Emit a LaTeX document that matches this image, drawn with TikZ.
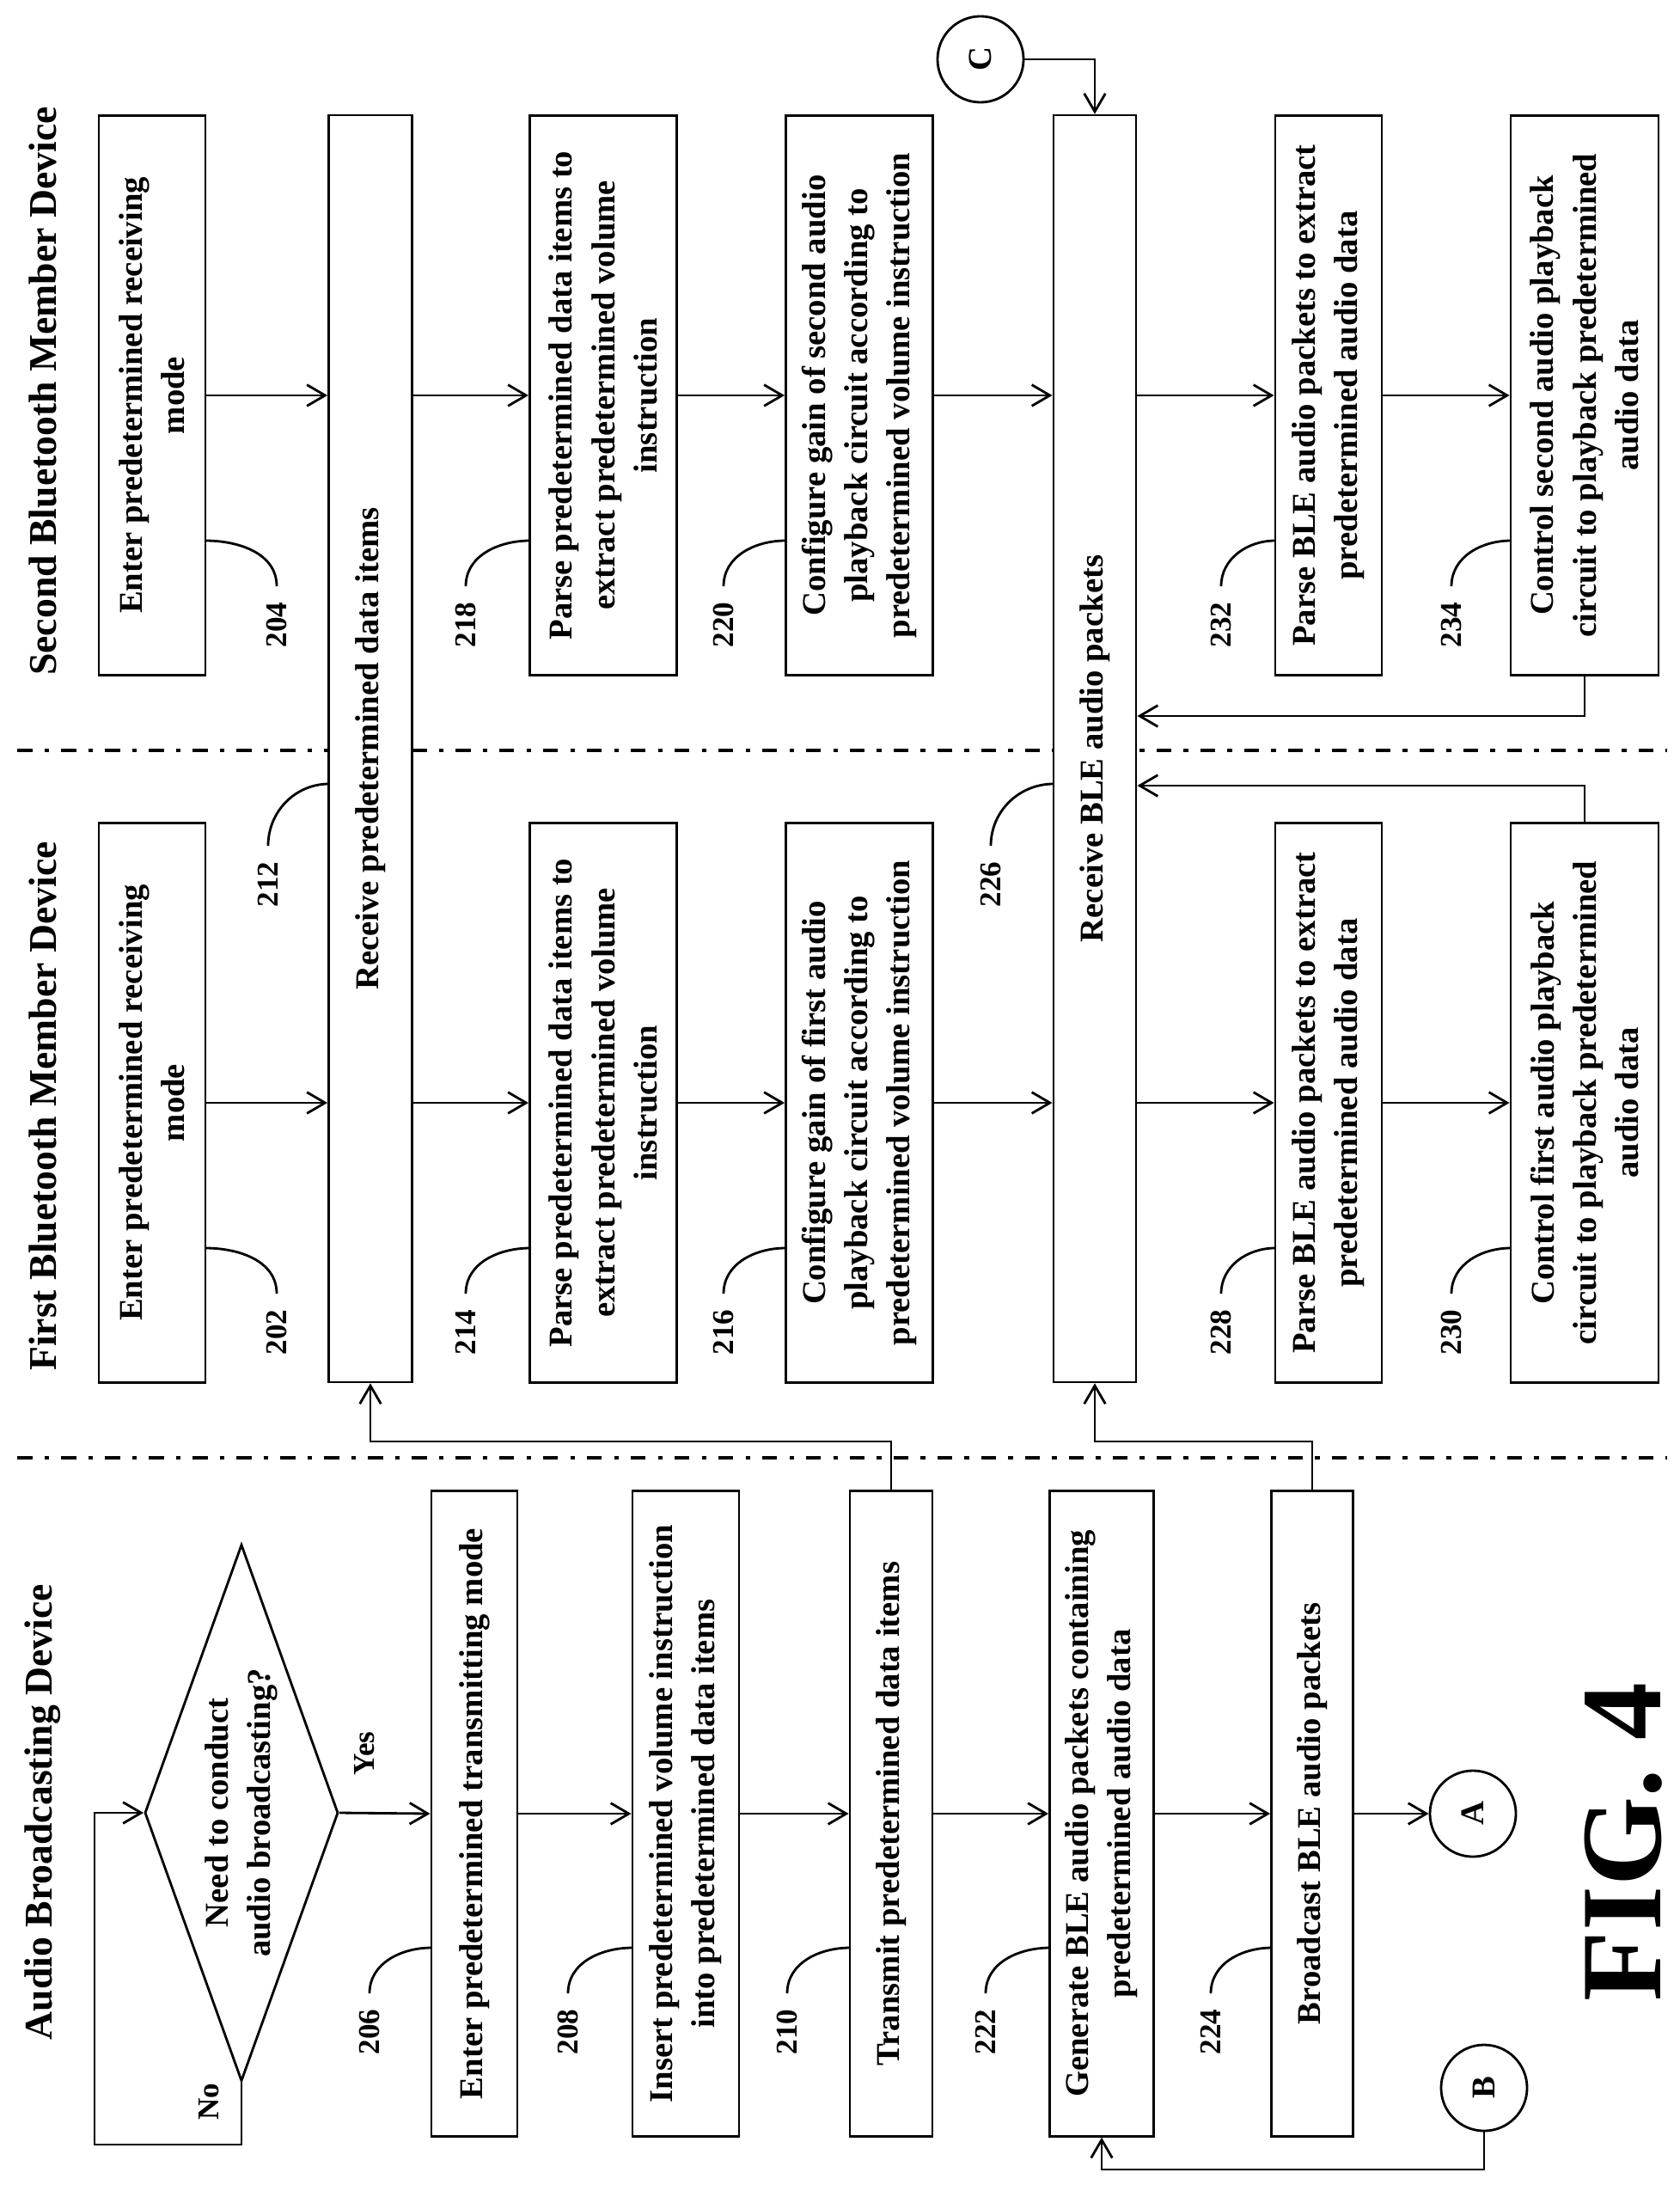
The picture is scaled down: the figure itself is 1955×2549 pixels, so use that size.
\documentclass[tikz,border=0pt]{standalone}
\usepackage{fontspec}
\setmainfont{Liberation Serif}
\usetikzlibrary{shapes.geometric,arrows.meta,calc}
\begin{document}
\begin{tikzpicture}[x=0.01cm,y=-0.01cm,
  every node/.style={font=\bfseries\fontsize{11}{14}\selectfont},
  box/.style={draw,line width=0.8pt,rotate=90,align=center,inner sep=2pt,fill=white},
  lbl/.style={rotate=90,font=\bfseries\fontsize{10}{12}\selectfont},
  ttl/.style={rotate=90,font=\bfseries\fontsize{13}{15}\selectfont},
  cc/.style={draw,circle,line width=0.8pt,minimum size=1cm,inner sep=0pt},
  ln/.style={line width=0.8pt},
  arr/.style={line width=0.8pt,-{Straight Barb[length=6pt,width=7pt]}},
  sep/.style={line width=1pt,dash pattern=on 5pt off 4pt on 1.5pt off 4pt}]
\useasboundingbox (0,0) rectangle (1955,2549);
% separators
\draw[sep] (20,873) -- (1940,873);
\draw[sep] (20,1696) -- (1940,1696);
% titles
\node[ttl] (t1) at (50,2108) {Audio Broadcasting Device};
\node[ttl] (t2) at (50,1287) {First Bluetooth Member Device};
\node[ttl] (t3) at (50,455) {Second Bluetooth Member Device};
% column 3 (second member)
\node[box,minimum width=6.5cm,minimum height=1.24cm] (b204) at (177,460) {Enter predetermined receiving\\mode};
\node[box,minimum width=6.5cm,minimum height=1.71cm] (b218) at (702,460) {Parse predetermined data items to\\extract predetermined volume\\instruction};
\node[box,minimum width=6.5cm,minimum height=1.71cm] (b220) at (1000,460) {Configure gain of second audio\\playback circuit according to\\predetermined volume instruction};
\node[box,minimum width=6.5cm,minimum height=1.24cm] (b232) at (1546,460) {Parse BLE audio packets to extract\\predetermined audio data};
\node[box,minimum width=6.5cm,minimum height=1.72cm] (b234) at (1844,460) {Control second audio playback\\circuit to playback predetermined\\audio data};
% column 2 (first member)
\node[box,minimum width=6.5cm,minimum height=1.24cm] (b202) at (177,1283) {Enter predetermined receiving\\mode};
\node[box,minimum width=6.5cm,minimum height=1.71cm] (b214) at (702,1283) {Parse predetermined data items to\\extract predetermined volume\\instruction};
\node[box,minimum width=6.5cm,minimum height=1.71cm] (b216) at (1000,1283) {Configure gain of first audio\\playback circuit according to\\predetermined volume instruction};
\node[box,minimum width=6.5cm,minimum height=1.24cm] (b228) at (1546,1283) {Parse BLE audio packets to extract\\predetermined audio data};
\node[box,minimum width=6.5cm,minimum height=1.72cm] (b230) at (1844,1283) {Control first audio playback\\circuit to playback predetermined\\audio data};
% wide boxes
\node[box,minimum width=14.73cm,minimum height=0.97cm] (rd) at (431,871) {Receive predetermined data items};
\node[box,minimum width=14.73cm,minimum height=0.96cm] (rb) at (1274,871) {Receive BLE audio packets};
% column 1
\node[draw,line width=0.8pt,diamond,rotate=90,shape aspect=2.77,minimum width=6.24cm,minimum height=2.25cm,inner sep=0pt,align=center] (dia) at (281,2109) {Need to conduct\\audio broadcasting?};
\node[box,minimum width=7.5cm,minimum height=1.0cm] (b206) at (552,2110) {Enter predetermined transmitting mode};
\node[box,minimum width=7.5cm,minimum height=1.24cm] (b208) at (798,2110) {Insert predetermined volume instruction\\into predetermined data items};
\node[box,minimum width=7.5cm,minimum height=0.96cm] (b210) at (1037,2110) {Transmit predetermined data items};
\node[box,minimum width=7.5cm,minimum height=1.21cm] (b222) at (1282,2110) {Generate BLE audio packets containing\\predetermined audio data};
\node[box,minimum width=7.5cm,minimum height=0.95cm] (b224) at (1527,2110) {Broadcast BLE audio packets};
\node[cc] (A) at (1714,2110) {\rotatebox{90}{A}};
\node[cc] (B) at (1727,2429) {\rotatebox{90}{B}};
\node[cc] (C) at (1141,69) {\rotatebox{90}{C}};
\node[rotate=90,font=\bfseries\fontsize{38}{40}\selectfont] (fig) at (1889,2143) {FIG. 4};
\node[lbl] (no) at (243,2445) {No};
\node[lbl] (yes) at (424,2040) {Yes};
% arrows column 1
\draw[arr] (dia.south) -- (b206.north);
\draw[arr] (b206.south) -- (b208.north);
\draw[arr] (b208.south) -- (b210.north);
\draw[arr] (b210.south) -- (b222.north);
\draw[arr] (b222.south) -- (b224.north);
\draw[arr] (b224.south) -- (A);
\coordinate (n1) at (110,2495);
\draw[arr] (dia.west) |- (n1) |- (dia.north);
\coordinate (j3) at (1727,2524);
\draw[arr] (B.south) -- (j3) -| (b222.west);
\coordinate (j1) at (1037,1677);
\draw[arr] (b210.east) -- (j1) -| (rd.west);
\coordinate (j2) at (1527,1677);
\draw[arr] (b224.east) -- (j2) -| (rb.west);
% arrows column 2
\foreach \a/\b in {b202/rd,rd/b214,b214/b216,b216/rb,rb/b228,b228/b230}{
  \draw[arr] (\a.south |- b202.center) -- (\b.north |- b202.center);}
\foreach \a/\b in {b204/rd,rd/b218,b218/b220,b220/rb,rb/b232,b232/b234}{
  \draw[arr] (\a.south |- b204.center) -- (\b.north |- b204.center);}
\draw[arr] (C.east) -| (rb.east);
\coordinate (j4) at (1844,833);
\draw[arr] (b234.west) -- (j4) -- (j4 -| rb.south);
\coordinate (j5) at (1844,914);
\draw[arr] (b230.east) -- (j5) -- (j5 -| rb.south);
% labels with leaders
\foreach \n/\x/\y/\e in {206/430/2364/502,208/661/2364/736,210/916/2364/989,222/1147/2364/1222,224/1409/2364/1480,
  214/542/1550/617,216/842/1550/914,228/1421/1550/1484,230/1689/1550/1758,
  218/542/727/617,220/842/727/914,232/1421/727/1484,234/1689/727/1758}{
  \node[lbl] (L\n) at (\x,\y) {\n};
  \draw[ln] (\x,\y-45) to[out=90,in=180] (\e,\y-98);}
\foreach \n/\x/\y/\e in {202/322/1550/239,204/322/727/239}{
  \node[lbl] (L\n) at (\x,\y) {\n};
  \draw[ln] (\x,\y-45) to[out=90,in=0] (\e,\y-98);}
\foreach \n/\x/\e in {212/312/383,226/1153/1226}{
  \node[lbl] (L\n) at (\x,1029) {\n};
  \draw[ln] (\x,984) to[out=90,in=180] (\e,912);}
\end{tikzpicture}
\end{document}
